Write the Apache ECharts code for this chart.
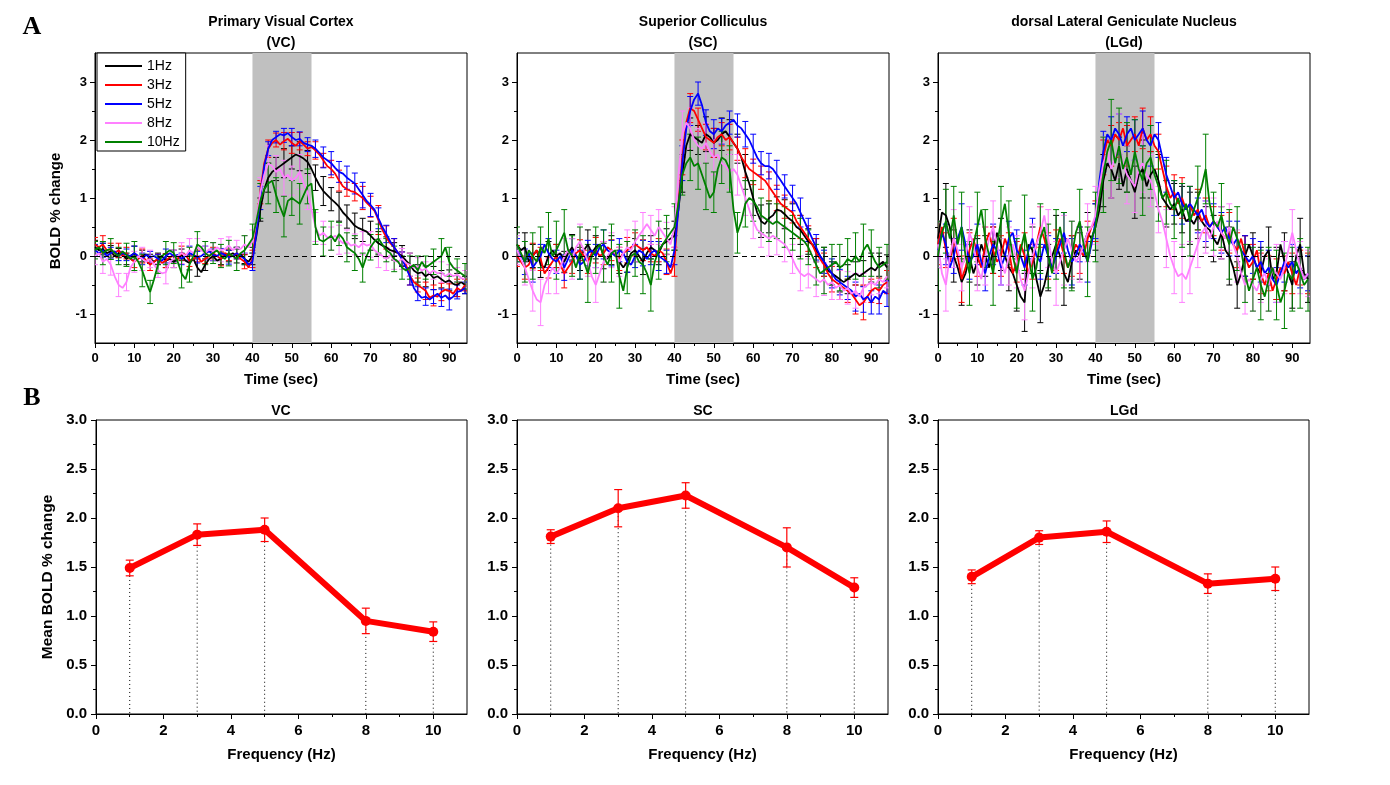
<!DOCTYPE html>
<html><head><meta charset="utf-8">
<script src="https://cdn.jsdelivr.net/npm/echarts@6/dist/echarts.min.js"></script>
<style>html,body{margin:0;padding:0;background:#fff}#c{width:1390px;height:785px}</style>
</head><body><div id="c"></div>
<script>
// ---------- categories / tick labels ----------
const seriesNames = ['1Hz','3Hz','5Hz','8Hz','10Hz'];
const seriesColors = ['#000000','#ff0000','#0000ff','#ff80ff','#008000'];
const timeSec = [0,1,2,3,4,5,6,7,8,9,10,11,12,13,14,15,16,17,18,19,20,21,22,23,24,25,26,27,28,29,30,31,32,33,34,35,36,37,38,39,40,41,42,43,44,45,46,47,48,49,50,51,52,53,54,55,56,57,58,59,60,61,62,63,64,65,66,67,68,69,70,71,72,73,74,75,76,77,78,79,80,81,82,83,84,85,86,87,88,89,90,91,92,93,94];
const errEvery = 2; // error bars drawn at every 2nd time point
const stimWindow = [40, 55];
const timeTicks = [0,10,20,30,40,50,60,70,80,90];
const timeMinorTicks = [5,15,25,35,45,55,65,75,85];
const boldTicks = [-1,0,1,2,3];
const boldMinorTicks = [-0.5,0.5,1.5,2.5];
const freqTicks = [0,2,4,6,8,10];
const freqMinorTicks = [1,3,5,7,9];
const meanTicks = [0,0.5,1,1.5,2,2.5,3];
const meanMinorTicks = [0.25,0.75,1.25,1.75,2.25,2.75];
const topTitles = ['Primary Visual Cortex\n(VC)','Superior Colliculus\n(SC)','dorsal Lateral Geniculate Nucleus\n(LGd)'];
const bottomTitles = ['VC','SC','LGd'];

// ---------- A: time courses (BOLD % change), t = 0..94 s ----------
const vc1Hz = [0.15,0.1,0.12,0.05,0.08,0.0,0.05,0.02,-0.05,0.0,
 0.05,-0.02,0.0,0.03,-0.05,-0.1,-0.05,0.0,-0.08,-0.05,
 -0.1,-0.05,0.02,-0.08,-0.12,-0.05,-0.2,-0.28,-0.15,-0.05,
 0.0,-0.08,-0.05,0.02,0.0,0.05,0.0,0.03,-0.05,-0.1,
 0.0,0.35,0.8,1.15,1.35,1.45,1.5,1.55,1.6,1.65,
 1.7,1.75,1.72,1.68,1.62,1.5,1.35,1.22,1.12,1.05,
 0.98,0.92,0.85,0.75,0.68,0.6,0.52,0.48,0.45,0.42,
 0.35,0.28,0.22,0.18,0.15,0.1,0.08,0.05,0.0,-0.08,
 -0.15,-0.25,-0.3,-0.28,-0.35,-0.3,-0.38,-0.35,-0.4,-0.45,
 -0.42,-0.48,-0.5,-0.45,-0.5];
const vc3Hz = [0.2,0.15,0.2,0.1,0.12,0.05,0.1,0.0,0.05,-0.05,
 -0.1,-0.05,0.0,-0.08,-0.15,-0.1,-0.05,-0.12,-0.08,-0.02,
 0.0,-0.05,0.05,0.02,-0.08,-0.05,0.0,-0.1,-0.05,0.0,
 0.05,0.0,-0.05,0.05,0.02,0.0,0.05,-0.05,-0.1,-0.2,
 -0.05,0.5,1.1,1.6,1.85,1.95,2.0,1.92,1.98,2.02,
 1.95,1.9,1.98,1.92,1.85,1.88,1.82,1.75,1.65,1.55,
 1.5,1.42,1.3,1.2,1.15,1.12,1.1,1.05,1.0,0.92,
 0.85,0.78,0.62,0.45,0.32,0.22,0.15,0.05,-0.05,-0.15,
 -0.35,-0.45,-0.5,-0.55,-0.6,-0.72,-0.68,-0.7,-0.62,-0.58,
 -0.6,-0.65,-0.55,-0.6,-0.5];
const vc5Hz = [0.1,0.05,0.1,0.0,0.05,0.08,0.0,0.05,0.02,0.0,
 0.05,0.0,-0.05,0.02,-0.02,0.0,-0.05,-0.08,0.0,0.05,
 0.0,0.02,-0.05,0.0,0.05,0.02,-0.02,0.0,0.05,0.08,
 0.02,0.0,0.05,0.02,-0.02,0.0,0.05,0.0,-0.05,-0.15,
 -0.1,0.4,1.0,1.55,1.85,2.0,2.05,2.1,2.08,2.12,
 2.05,2.0,2.02,1.95,1.92,1.9,1.85,1.78,1.7,1.65,
 1.6,1.52,1.45,1.42,1.35,1.3,1.25,1.15,1.05,0.95,
 0.88,0.8,0.65,0.5,0.38,0.25,0.15,0.05,-0.05,-0.2,
 -0.35,-0.55,-0.65,-0.72,-0.7,-0.75,-0.7,-0.65,-0.72,-0.68,
 -0.75,-0.7,-0.62,-0.6,-0.55];
const vc8Hz = [0.0,0.05,-0.1,-0.05,-0.15,-0.35,-0.5,-0.55,-0.45,-0.2,
 -0.1,0.0,-0.05,-0.1,-0.05,-0.15,-0.25,-0.3,-0.28,-0.1,
 -0.05,0.0,0.05,0.0,0.1,0.05,0.15,0.1,0.05,0.12,
 0.08,0.15,0.1,0.12,0.18,0.1,0.15,0.12,0.2,0.15,
 0.25,0.6,1.1,1.4,1.6,1.55,1.45,1.5,1.35,1.4,
 1.3,1.35,1.45,1.25,1.1,0.8,0.5,0.35,0.4,0.32,
 0.3,0.35,0.28,0.22,0.25,0.18,0.2,0.15,0.22,0.18,
 0.2,0.1,0.05,0.0,-0.05,0.02,-0.08,-0.1,-0.05,-0.12,
 -0.15,-0.2,-0.18,-0.25,-0.22,-0.3,-0.25,-0.3,-0.28,-0.35,
 -0.3,-0.35,-0.32,-0.38,-0.4];
const vc10Hz = [0.1,0.15,0.05,0.1,0.12,0.05,0.0,0.08,0.02,-0.05,
 0.0,-0.1,-0.25,-0.45,-0.62,-0.4,-0.15,0.0,0.05,0.1,
 0.05,-0.1,-0.3,-0.4,-0.15,0.0,0.2,0.15,0.05,0.0,
 0.05,0.1,0.0,-0.05,0.05,0.0,-0.05,0.05,0.1,0.2,
 0.3,0.6,0.95,1.15,1.25,1.3,1.05,0.85,0.68,0.95,
 1.0,0.95,0.9,1.05,1.2,1.25,0.5,0.28,0.25,0.3,
 0.35,0.25,0.38,0.3,0.15,0.1,0.05,-0.05,-0.2,0.0,
 0.15,0.25,0.3,0.2,0.1,0.05,-0.05,-0.1,-0.2,-0.25,
 -0.2,-0.15,-0.25,-0.1,-0.2,-0.15,-0.1,-0.05,0.0,0.15,
 -0.1,-0.2,-0.25,-0.3,-0.35];

const sc1Hz = [0.2,0.1,0.15,-0.1,0.0,0.1,-0.15,-0.2,0.0,0.1,
 0.0,0.05,-0.1,0.05,0.15,0.0,-0.05,0.1,0.2,0.05,
 0.15,0.2,0.0,-0.05,0.1,0.05,-0.1,-0.2,-0.1,0.05,
 0.1,0.0,-0.1,0.05,0.15,0.1,0.05,0.2,0.25,0.3,
 0.35,0.8,1.4,1.9,2.1,2.05,2.0,1.95,2.1,2.05,
 1.95,2.0,2.1,2.15,2.05,1.95,1.85,1.7,1.45,1.25,
 1.0,0.75,0.6,0.55,0.65,0.7,0.8,0.78,0.72,0.65,
 0.6,0.5,0.45,0.35,0.25,0.2,0.1,0.0,-0.1,-0.25,
 -0.3,-0.35,-0.4,-0.45,-0.4,-0.35,-0.3,-0.35,-0.3,-0.25,
 -0.2,-0.25,-0.15,-0.1,-0.2];
const sc3Hz = [0.0,-0.1,-0.2,-0.15,0.0,0.1,-0.05,-0.3,-0.2,-0.1,
 0.0,-0.15,-0.3,-0.2,-0.1,0.05,0.1,0.0,-0.1,0.05,
 0.1,0.0,0.05,0.15,0.1,0.0,-0.05,0.05,0.1,0.15,
 0.2,0.15,0.1,0.15,0.05,0.0,0.1,0.05,-0.1,-0.3,
 -0.1,0.9,1.7,2.3,2.55,2.5,2.35,2.2,2.05,2.0,
 1.95,2.05,2.1,2.0,2.05,1.95,1.85,1.7,1.6,1.5,
 1.45,1.4,1.35,1.3,1.2,1.1,1.0,0.9,0.85,0.8,
 0.75,0.6,0.5,0.4,0.3,0.2,0.05,-0.05,-0.15,-0.3,
 -0.4,-0.45,-0.5,-0.55,-0.6,-0.65,-0.75,-0.85,-0.8,-0.7,
 -0.6,-0.55,-0.6,-0.5,-0.45];
const sc5Hz = [0.1,0.0,-0.1,0.05,-0.2,-0.1,0.0,0.2,0.05,-0.05,
 -0.1,0.0,-0.2,-0.05,0.1,0.0,-0.15,-0.1,0.05,0.1,
 0.0,0.15,0.2,0.1,0.05,0.0,0.1,0.05,-0.1,-0.15,
 0.0,0.1,0.05,-0.05,0.05,0.1,0.0,-0.05,-0.1,-0.2,
 0.1,0.8,1.6,2.2,2.5,2.7,2.8,2.6,2.3,2.15,
 2.1,2.2,2.15,2.25,2.3,2.35,2.25,2.2,2.1,2.0,
 1.85,1.7,1.6,1.55,1.55,1.5,1.4,1.3,1.2,1.1,
 1.0,0.9,0.75,0.6,0.45,0.3,0.15,0.0,-0.1,-0.2,
 -0.3,-0.4,-0.45,-0.5,-0.55,-0.6,-0.7,-0.65,-0.75,-0.7,
 -0.8,-0.7,-0.75,-0.6,-0.65];
const sc8Hz = [0.1,-0.05,-0.2,-0.4,-0.6,-0.75,-0.8,-0.5,-0.35,-0.2,
 -0.3,-0.2,0.0,0.1,-0.05,0.15,0.25,0.1,-0.1,-0.35,
 -0.5,-0.3,-0.1,0.0,0.1,0.05,-0.1,0.05,0.15,0.1,
 0.25,0.35,0.45,0.55,0.45,0.35,0.5,0.4,0.3,0.2,
 0.5,1.4,2.1,2.3,2.2,2.0,1.9,1.85,1.95,1.8,
 1.7,1.75,1.6,1.55,1.45,1.5,1.4,1.2,1.0,0.8,
 0.6,0.45,0.4,0.35,0.3,0.35,0.3,0.25,0.2,0.1,
 -0.05,-0.2,-0.3,-0.35,-0.3,-0.35,-0.4,-0.45,-0.4,-0.5,
 -0.45,-0.55,-0.5,-0.6,-0.55,-0.65,-0.6,-0.7,-0.55,-0.5,
 -0.45,-0.5,-0.4,-0.45,-0.35];
const sc10Hz = [0.2,0.05,-0.1,0.1,0.0,-0.1,0.15,0.05,0.3,0.0,
 0.1,0.25,0.4,0.1,0.0,-0.2,0.05,-0.1,-0.3,0.0,
 0.1,0.2,0.0,-0.15,0.05,0.1,-0.35,-0.6,-0.2,0.0,
 0.05,-0.1,-0.15,-0.3,-0.5,-0.1,0.1,0.2,0.3,0.4,
 0.5,0.9,1.4,1.6,1.7,1.55,1.6,1.4,1.2,1.0,
 1.1,1.5,1.7,1.65,1.5,0.8,0.4,0.6,0.9,1.0,
 0.95,0.85,0.7,0.65,0.6,0.55,0.6,0.55,0.5,0.45,
 0.4,0.35,0.3,0.25,0.15,0.0,-0.15,-0.3,-0.25,-0.2,
 -0.15,-0.1,-0.2,-0.15,-0.05,-0.1,0.0,-0.1,0.1,0.2,
 0.05,-0.1,-0.2,-0.15,-0.1];

const lgd1Hz = [0.3,0.75,0.7,0.5,0.0,-0.2,-0.45,-0.3,0.0,-0.3,
 -0.1,0.2,0.0,-0.2,0.1,0.4,0.2,0.0,-0.2,-0.3,
 -0.5,-0.7,-0.8,0.2,0.1,-0.4,-0.7,-0.5,-0.2,0.0,
 0.2,0.0,-0.3,-0.45,-0.1,0.1,0.0,0.2,0.4,0.3,
 0.5,0.8,1.3,1.6,1.5,1.3,1.6,1.2,1.5,1.3,
 1.1,1.4,1.5,1.2,1.4,1.5,1.3,1.0,0.9,0.8,
 0.9,0.7,0.8,0.6,0.65,0.55,0.7,0.6,0.5,0.45,
 0.3,0.2,0.4,0.1,0.0,-0.2,-0.5,-0.3,0.0,0.2,
 0.0,-0.2,-0.3,0.0,0.1,-0.4,-0.3,0.2,-0.1,-0.3,
 -0.5,0.0,0.2,-0.3,-0.4];
const lgd3Hz = [0.2,0.5,0.1,-0.1,0.3,0.0,-0.4,-0.2,0.1,0.3,
 0.0,-0.2,0.2,0.4,0.1,-0.1,0.0,0.3,0.1,-0.3,
 -0.1,0.2,0.0,-0.3,-0.1,0.2,0.5,0.3,0.0,-0.2,
 0.1,0.3,0.0,-0.2,0.0,0.2,0.1,0.0,0.3,0.5,
 0.6,1.2,1.7,2.0,1.9,2.1,2.0,2.2,1.9,2.0,
 2.1,1.9,2.2,2.0,2.1,1.9,1.8,1.5,1.2,1.0,
 1.1,0.9,1.0,0.8,0.9,0.7,0.8,0.6,0.7,0.5,
 0.6,0.5,0.4,0.3,0.4,0.2,0.1,0.3,0.0,-0.2,
 -0.1,0.1,-0.3,-0.5,-0.3,-0.6,-0.4,-0.2,-0.3,-0.1,
 -0.3,-0.5,-0.2,-0.4,-0.3];
const lgd5Hz = [0.1,0.4,0.2,-0.2,0.0,0.3,0.5,0.2,-0.1,0.0,
 0.2,-0.1,-0.3,0.0,0.2,0.1,-0.2,0.0,0.3,0.4,
 0.1,0.0,-0.2,0.1,0.3,0.0,-0.1,0.2,0.0,-0.2,
 0.0,0.2,0.4,0.1,-0.1,0.0,0.2,0.1,-0.1,0.2,
 0.6,1.3,1.8,2.1,2.0,2.2,2.1,1.9,2.1,2.2,
 2.0,2.1,2.2,2.0,1.9,2.1,2.0,1.7,1.4,1.2,
 1.0,1.1,0.9,0.8,0.9,0.8,0.7,0.8,0.6,0.5,
 0.6,0.5,0.4,0.5,0.3,0.2,0.3,0.1,0.0,-0.1,
 0.0,-0.2,-0.1,-0.3,-0.2,-0.4,-0.5,-0.3,-0.1,-0.2,
 -0.1,-0.3,-0.2,-0.4,-0.3];
const lgd8Hz = [0.2,-0.3,-0.5,0.0,0.3,0.1,-0.2,0.0,0.4,0.2,
 -0.2,-0.4,0.0,0.3,0.5,0.2,-0.1,-0.3,0.0,0.2,
 -0.1,-0.4,-0.6,-0.3,0.0,0.2,0.4,0.7,0.3,-0.1,
 -0.3,-0.1,0.1,0.3,0.1,-0.1,0.0,0.2,0.4,0.5,
 0.7,1.2,1.6,1.8,1.5,1.7,1.9,1.6,1.4,1.3,
 1.2,1.5,1.6,1.4,1.3,1.1,0.8,0.6,0.3,0.0,
 -0.2,-0.35,-0.3,-0.4,-0.2,0.0,0.2,0.4,0.5,0.3,
 0.5,0.6,0.4,0.3,0.5,0.2,0.0,-0.3,-0.5,-0.4,
 -0.5,-0.6,-0.4,-0.3,-0.5,-0.2,-0.3,-0.4,-0.2,0.1,
 0.4,0.1,-0.2,-0.4,-0.3];
const lgd10Hz = [0.0,0.4,0.6,0.3,0.7,0.2,0.5,0.0,-0.3,0.2,
 0.5,0.8,0.3,0.0,-0.3,0.2,0.6,0.9,0.4,0.0,
 -0.3,0.1,0.4,0.0,-0.4,-0.2,0.3,0.5,0.0,-0.3,
 0.2,0.5,0.1,-0.2,0.0,0.4,0.6,0.2,-0.1,0.3,
 0.5,1.0,1.4,1.8,2.0,1.6,1.9,1.5,1.7,1.4,
 1.8,1.5,1.3,1.6,1.7,1.4,1.2,1.0,1.1,0.9,
 0.8,1.0,0.7,0.9,0.6,0.8,1.0,1.2,1.5,0.9,
 0.6,0.5,0.7,0.4,0.2,0.5,0.3,0.1,-0.3,-0.6,
 -0.4,-0.2,-0.5,-0.7,-0.4,-0.2,-0.5,-0.8,-0.6,-0.3,
 -0.4,-0.1,-0.3,-0.5,-0.4];

// error bar half-lengths at t = 0,2,4,...,94
const vc1HzErr = [0.12,0.1,0.1,0.08,0.1,0.12,0.1,0.08,0.1,0.12,0.1,0.1,0.12,0.15,0.1,0.08,0.1,0.1,0.12,0.08,0.15,0.2,0.25,0.2,0.25,0.2,0.25,0.2,0.22,0.25,0.2,0.25,0.2,0.22,0.2,0.25,0.2,0.18,0.15,0.18,0.2,0.15,0.18,0.2,0.15,0.18,0.2,0.15];
const vc3HzErr = [0.12,0.15,0.1,0.12,0.1,0.1,0.12,0.1,0.08,0.12,0.1,0.12,0.1,0.1,0.08,0.1,0.12,0.1,0.1,0.12,0.15,0.2,0.15,0.12,0.15,0.18,0.15,0.12,0.15,0.12,0.15,0.18,0.12,0.15,0.2,0.18,0.25,0.2,0.15,0.12,0.15,0.12,0.15,0.18,0.15,0.12,0.15,0.1];
const vc5HzErr = [0.1,0.12,0.1,0.08,0.1,0.12,0.1,0.1,0.08,0.12,0.1,0.1,0.12,0.1,0.12,0.1,0.08,0.12,0.1,0.1,0.15,0.2,0.12,0.1,0.12,0.15,0.12,0.12,0.15,0.18,0.2,0.18,0.2,0.18,0.22,0.2,0.18,0.15,0.15,0.12,0.15,0.12,0.15,0.12,0.15,0.18,0.12,0.1];
const vc8HzErr = [0.15,0.2,0.18,0.2,0.15,0.18,0.2,0.15,0.12,0.2,0.15,0.18,0.2,0.15,0.12,0.15,0.2,0.15,0.12,0.15,0.2,0.25,0.3,0.28,0.3,0.25,0.3,0.3,0.25,0.2,0.2,0.25,0.2,0.18,0.2,0.22,0.25,0.2,0.15,0.18,0.2,0.15,0.12,0.15,0.18,0.15,0.12,0.15];
const vc10HzErr = [0.15,0.2,0.18,0.15,0.2,0.25,0.28,0.2,0.15,0.2,0.18,0.25,0.3,0.22,0.2,0.18,0.2,0.22,0.2,0.25,0.25,0.3,0.35,0.3,0.35,0.3,0.35,0.3,0.3,0.25,0.25,0.2,0.25,0.3,0.25,0.22,0.25,0.2,0.22,0.2,0.2,0.25,0.2,0.22,0.3,0.25,0.2,0.22];
const sc1HzErr = [0.2,0.25,0.2,0.22,0.25,0.2,0.18,0.22,0.2,0.25,0.2,0.22,0.25,0.2,0.18,0.2,0.22,0.2,0.2,0.22,0.25,0.3,0.28,0.25,0.3,0.25,0.28,0.3,0.25,0.3,0.3,0.28,0.25,0.22,0.25,0.3,0.25,0.22,0.2,0.25,0.2,0.22,0.25,0.2,0.22,0.25,0.2,0.22];
const sc3HzErr = [0.18,0.2,0.22,0.2,0.18,0.2,0.25,0.2,0.18,0.2,0.22,0.2,0.18,0.2,0.22,0.2,0.18,0.15,0.2,0.22,0.25,0.3,0.25,0.2,0.22,0.25,0.2,0.22,0.2,0.25,0.22,0.2,0.25,0.22,0.2,0.18,0.2,0.22,0.25,0.2,0.22,0.25,0.2,0.25,0.3,0.2,0.22,0.2];
const sc5HzErr = [0.2,0.22,0.25,0.2,0.25,0.2,0.22,0.2,0.25,0.22,0.2,0.25,0.22,0.2,0.18,0.2,0.22,0.2,0.25,0.2,0.25,0.3,0.25,0.2,0.22,0.25,0.22,0.2,0.2,0.22,0.25,0.2,0.22,0.25,0.2,0.22,0.25,0.2,0.22,0.2,0.25,0.22,0.2,0.25,0.22,0.2,0.25,0.22];
const sc8HzErr = [0.25,0.3,0.35,0.4,0.3,0.35,0.3,0.35,0.3,0.25,0.3,0.35,0.3,0.25,0.3,0.35,0.3,0.25,0.3,0.28,0.35,0.4,0.35,0.3,0.35,0.3,0.35,0.3,0.35,0.3,0.3,0.25,0.3,0.28,0.3,0.25,0.3,0.25,0.3,0.28,0.3,0.25,0.28,0.3,0.25,0.22,0.25,0.2];
const sc10HzErr = [0.3,0.35,0.4,0.35,0.45,0.5,0.4,0.35,0.45,0.5,0.4,0.45,0.5,0.55,0.45,0.4,0.5,0.45,0.5,0.4,0.4,0.35,0.4,0.45,0.4,0.35,0.45,0.4,0.35,0.4,0.35,0.3,0.35,0.3,0.35,0.3,0.35,0.3,0.35,0.4,0.35,0.4,0.35,0.4,0.45,0.4,0.35,0.3];
const lgd1HzErr = [0.5,0.55,0.45,0.4,0.45,0.4,0.35,0.4,0.45,0.4,0.45,0.5,0.4,0.45,0.4,0.5,0.55,0.45,0.4,0.35,0.4,0.45,0.5,0.45,0.4,0.45,0.5,0.4,0.45,0.4,0.35,0.4,0.45,0.4,0.35,0.4,0.45,0.5,0.4,0.35,0.4,0.45,0.4,0.45,0.5,0.4,0.45,0.4];
const lgd3HzErr = [0.35,0.3,0.35,0.4,0.3,0.35,0.3,0.4,0.35,0.3,0.35,0.4,0.3,0.35,0.4,0.35,0.3,0.35,0.4,0.3,0.35,0.3,0.35,0.3,0.35,0.3,0.35,0.3,0.3,0.35,0.3,0.35,0.3,0.35,0.3,0.25,0.3,0.35,0.3,0.35,0.3,0.35,0.3,0.35,0.3,0.35,0.3,0.35];
const lgd5HzErr = [0.3,0.35,0.3,0.4,0.3,0.35,0.3,0.35,0.3,0.3,0.35,0.3,0.35,0.3,0.35,0.3,0.35,0.4,0.3,0.35,0.3,0.35,0.4,0.35,0.3,0.35,0.3,0.35,0.3,0.3,0.3,0.35,0.3,0.3,0.35,0.3,0.35,0.3,0.3,0.35,0.3,0.35,0.3,0.3,0.35,0.3,0.35,0.3];
const lgd8HzErr = [0.4,0.45,0.5,0.4,0.45,0.4,0.5,0.45,0.4,0.5,0.45,0.5,0.55,0.45,0.5,0.55,0.6,0.5,0.45,0.5,0.5,0.45,0.5,0.55,0.5,0.45,0.5,0.45,0.4,0.5,0.45,0.5,0.45,0.4,0.45,0.5,0.45,0.4,0.45,0.5,0.45,0.4,0.45,0.5,0.45,0.4,0.45,0.4];
const lgd10HzErr = [0.6,0.55,0.5,0.6,0.55,0.6,0.5,0.55,0.6,0.55,0.6,0.65,0.55,0.6,0.55,0.6,0.65,0.6,0.55,0.6,0.6,0.65,0.7,0.65,0.6,0.55,0.6,0.55,0.6,0.55,0.5,0.55,0.6,0.55,0.6,0.5,0.55,0.6,0.55,0.5,0.55,0.6,0.55,0.6,0.65,0.55,0.6,0.55];

// ---------- B: mean response vs frequency ----------
const freqHz = [1,3,5,8,10];
const meanVC = [1.49,1.83,1.88,0.95,0.84];
const semVC  = [0.08,0.11,0.12,0.13,0.10];
const meanSC = [1.81,2.10,2.23,1.70,1.29];
const semSC  = [0.07,0.19,0.13,0.20,0.10];
const meanLGd = [1.40,1.80,1.86,1.33,1.38];
const semLGd  = [0.07,0.07,0.11,0.10,0.12];

// ---------- build ----------
const FONT = '"Liberation Sans", Arial, Helvetica, sans-serif';
const topData = [[vc1Hz,vc3Hz,vc5Hz,vc8Hz,vc10Hz],[sc1Hz,sc3Hz,sc5Hz,sc8Hz,sc10Hz],[lgd1Hz,lgd3Hz,lgd5Hz,lgd8Hz,lgd10Hz]];
const topErr = [[vc1HzErr,vc3HzErr,vc5HzErr,vc8HzErr,vc10HzErr],[sc1HzErr,sc3HzErr,sc5HzErr,sc8HzErr,sc10HzErr],[lgd1HzErr,lgd3HzErr,lgd5HzErr,lgd8HzErr,lgd10HzErr]];
const botMean = [meanVC, meanSC, meanLGd];
const botSem = [semVC, semSC, semLGd];

const topLeft = [95, 517, 938];
const grids = [];
topLeft.forEach(l => grids.push({left:l, top:53, width:372, height:290, show:true, borderColor:'#000', borderWidth:1, backgroundColor:'transparent'}));
[96, 517, 938].forEach(l => grids.push({left:l, top:420, width:371, height:294, show:true, borderColor:'#000', borderWidth:1, backgroundColor:'transparent'}));

const xAxis = [], yAxis = [];
function mainAxis(g, min, max, ticks, fmt, fontSize, margin, extra) {
  return Object.assign({type:'value', gridIndex:g, min, max,
    axisLine:{show:true, onZero:false, lineStyle:{color:'#000', width:1}},
    axisTick:{show:true, customValues:ticks, length:5, inside:false, lineStyle:{color:'#000', width:1}},
    axisLabel:{show:true, customValues:ticks, formatter:fmt, color:'#000', fontWeight:'bold', fontSize, fontFamily:FONT, margin},
    splitLine:{show:false}}, extra||{});
}
function minorAxis(g, min, max, ticks, pos) {
  return {type:'value', gridIndex:g, min, max, position:pos, offset:0,
    axisLine:{show:false, onZero:false}, axisTick:{show:true, customValues:ticks, length:3, lineStyle:{color:'#000', width:1}},
    axisLabel:{show:false}, splitLine:{show:false}};
}
const nameStyle = {color:'#000', fontWeight:'bold', fontSize:15, fontFamily:FONT};
for (let g = 0; g < 3; g++) {
  xAxis.push(mainAxis(g, 0, 94.5, timeTicks, v => String(v), 13, 9, {position:'bottom', name:'Time (sec)', nameLocation:'middle', nameGap:29,
    nameTextStyle:nameStyle}));
  xAxis.push(minorAxis(g, 0, 94.5, timeMinorTicks, 'bottom'));
  yAxis.push(mainAxis(g, -1.5, 3.5, boldTicks, v => String(v), 13, 8, {position:'left'}));
  yAxis.push(minorAxis(g, -1.5, 3.5, boldMinorTicks, 'left'));
}
for (let g = 3; g < 6; g++) {
  xAxis.push(mainAxis(g, 0, 11, freqTicks, v => String(v), 15, 9, {position:'bottom', name:'Frequency (Hz)', nameLocation:'middle', nameGap:33,
    nameTextStyle:nameStyle}));
  xAxis.push(minorAxis(g, 0, 11, freqMinorTicks, 'bottom'));
  yAxis.push(mainAxis(g, 0, 3, meanTicks, v => v.toFixed(1), 15, 9, {position:'left'}));
  yAxis.push(minorAxis(g, 0, 3, meanMinorTicks, 'left'));
}

function errRender(color, capHalf, lw) {
  return function (params, api) {
    const x = api.value(0), y = api.value(1), e = api.value(2);
    const top = api.coord([x, y + e]), bot = api.coord([x, y - e]);
    const st = {stroke:color, lineWidth:lw};
    return {type:'group', children:[
      {type:'line', shape:{x1:top[0], y1:top[1], x2:bot[0], y2:bot[1]}, style:st},
      {type:'line', shape:{x1:top[0]-capHalf, y1:top[1], x2:top[0]+capHalf, y2:top[1]}, style:st},
      {type:'line', shape:{x1:bot[0]-capHalf, y1:bot[1], x2:bot[0]+capHalf, y2:bot[1]}, style:st}
    ]};
  };
}

const series = [];
for (let g = 0; g < 3; g++) {
  // stimulus shading + zero reference line
  series.push({type:'line', xAxisIndex:2*g, yAxisIndex:2*g, data:[], silent:true, z:1,
    markArea:{silent:true, itemStyle:{color:'#c0c0c0'}, data:[[{xAxis:stimWindow[0]},{xAxis:stimWindow[1]}]]},
    markLine:{silent:true, symbol:'none', label:{show:false}, lineStyle:{color:'#000', type:[5,4], width:1}, data:[{yAxis:0}]}});
  for (let k = 0; k < 5; k++) {
    const vals = topData[g][k], errs = topErr[g][k];
    const errData = errs.map((e, i) => [timeSec[i*errEvery], vals[i*errEvery], e]);
    series.push({type:'custom', name:seriesNames[k]+' SEM', xAxisIndex:2*g, yAxisIndex:2*g, z:2, silent:true, clip:true,
      data:errData, encode:{x:0, y:1}, renderItem:errRender(seriesColors[k], 3, 1)});
    series.push({type:'line', name:seriesNames[k], xAxisIndex:2*g, yAxisIndex:2*g, z:2, silent:true, clip:true,
      color:seriesColors[k], showSymbol:false, symbol:'none', lineStyle:{width:1.8, color:seriesColors[k]},
      data:timeSec.map((t, i) => [t, vals[i]])});
  }
}
for (let b = 0; b < 3; b++) {
  const g = 3 + b, m = botMean[b], s = botSem[b];
  series.push({type:'custom', xAxisIndex:2*g, yAxisIndex:2*g, z:1, silent:true,
    data:freqHz.map((f, i) => [f, m[i]]), encode:{x:0, y:1},
    renderItem:function (params, api) {
      const p = api.coord([api.value(0), api.value(1)]), p0 = api.coord([api.value(0), 0]);
      return {type:'line', shape:{x1:p[0], y1:p[1], x2:p0[0], y2:p0[1]}, style:{stroke:'#000', lineWidth:1, lineDash:[1,3]}};
    }});
  series.push({type:'line', xAxisIndex:2*g, yAxisIndex:2*g, z:2, silent:true, color:'#ff0000',
    symbol:'circle', symbolSize:10, showSymbol:true, lineStyle:{width:6, color:'#ff0000'}, itemStyle:{color:'#ff0000'},
    data:freqHz.map((f, i) => [f, m[i]])});
  series.push({type:'custom', xAxisIndex:2*g, yAxisIndex:2*g, z:3, silent:true,
    data:freqHz.map((f, i) => [f, m[i], s[i]]), encode:{x:0, y:1}, renderItem:errRender('#ff0000', 4, 1.2)});
}

const graphic = [];
const topCenters = [281, 703, 1124];
topCenters.forEach((cx, i) => {
  graphic.push({type:'text', x:cx, y:12, silent:true, style:{text:topTitles[i], textAlign:'center', textVerticalAlign:'top',
    font:'bold 14px ' + FONT, fill:'#000', lineHeight:21}});
  graphic.push({type:'text', x:cx, y:404, silent:true, style:{text:bottomTitles[i], textAlign:'center', textVerticalAlign:'top',
    font:'bold 14px ' + FONT, fill:'#000'}});
});
graphic.push({type:'text', x:56, y:211, rotation:Math.PI/2, silent:true, style:{text:'BOLD % change', textAlign:'center', textVerticalAlign:'middle',
  font:'bold 15px ' + FONT, fill:'#000'}});
graphic.push({type:'text', x:48, y:577, rotation:Math.PI/2, silent:true, style:{text:'Mean BOLD % change', textAlign:'center', textVerticalAlign:'middle',
  font:'bold 15.5px ' + FONT, fill:'#000'}});
graphic.push({type:'text', x:32, y:27, silent:true, style:{text:'A', textAlign:'center', textVerticalAlign:'middle', font:'bold 26px "Liberation Serif", "Times New Roman", serif', fill:'#000'}});
graphic.push({type:'text', x:32, y:398, silent:true, style:{text:'B', textAlign:'center', textVerticalAlign:'middle', font:'bold 26px "Liberation Serif", "Times New Roman", serif', fill:'#000'}});

const chart = echarts.init(document.getElementById('c'), null, {renderer:'canvas'});
chart.setOption({
  animation:false,
  backgroundColor:'#fff',
  textStyle:{fontFamily:FONT},
  grid:grids, xAxis, yAxis, series, graphic,
  legend:{show:true, data:seriesNames, orient:'vertical', left:97, top:53, icon:'rect', itemWidth:37, itemHeight:2, itemGap:5,
    textStyle:{fontSize:14, color:'#000', fontFamily:FONT}, borderColor:'#000', borderWidth:1, borderRadius:0,
    padding:[6,6,2,8], backgroundColor:'#fff', selectedMode:false, z:10}
});
</script></body></html>
